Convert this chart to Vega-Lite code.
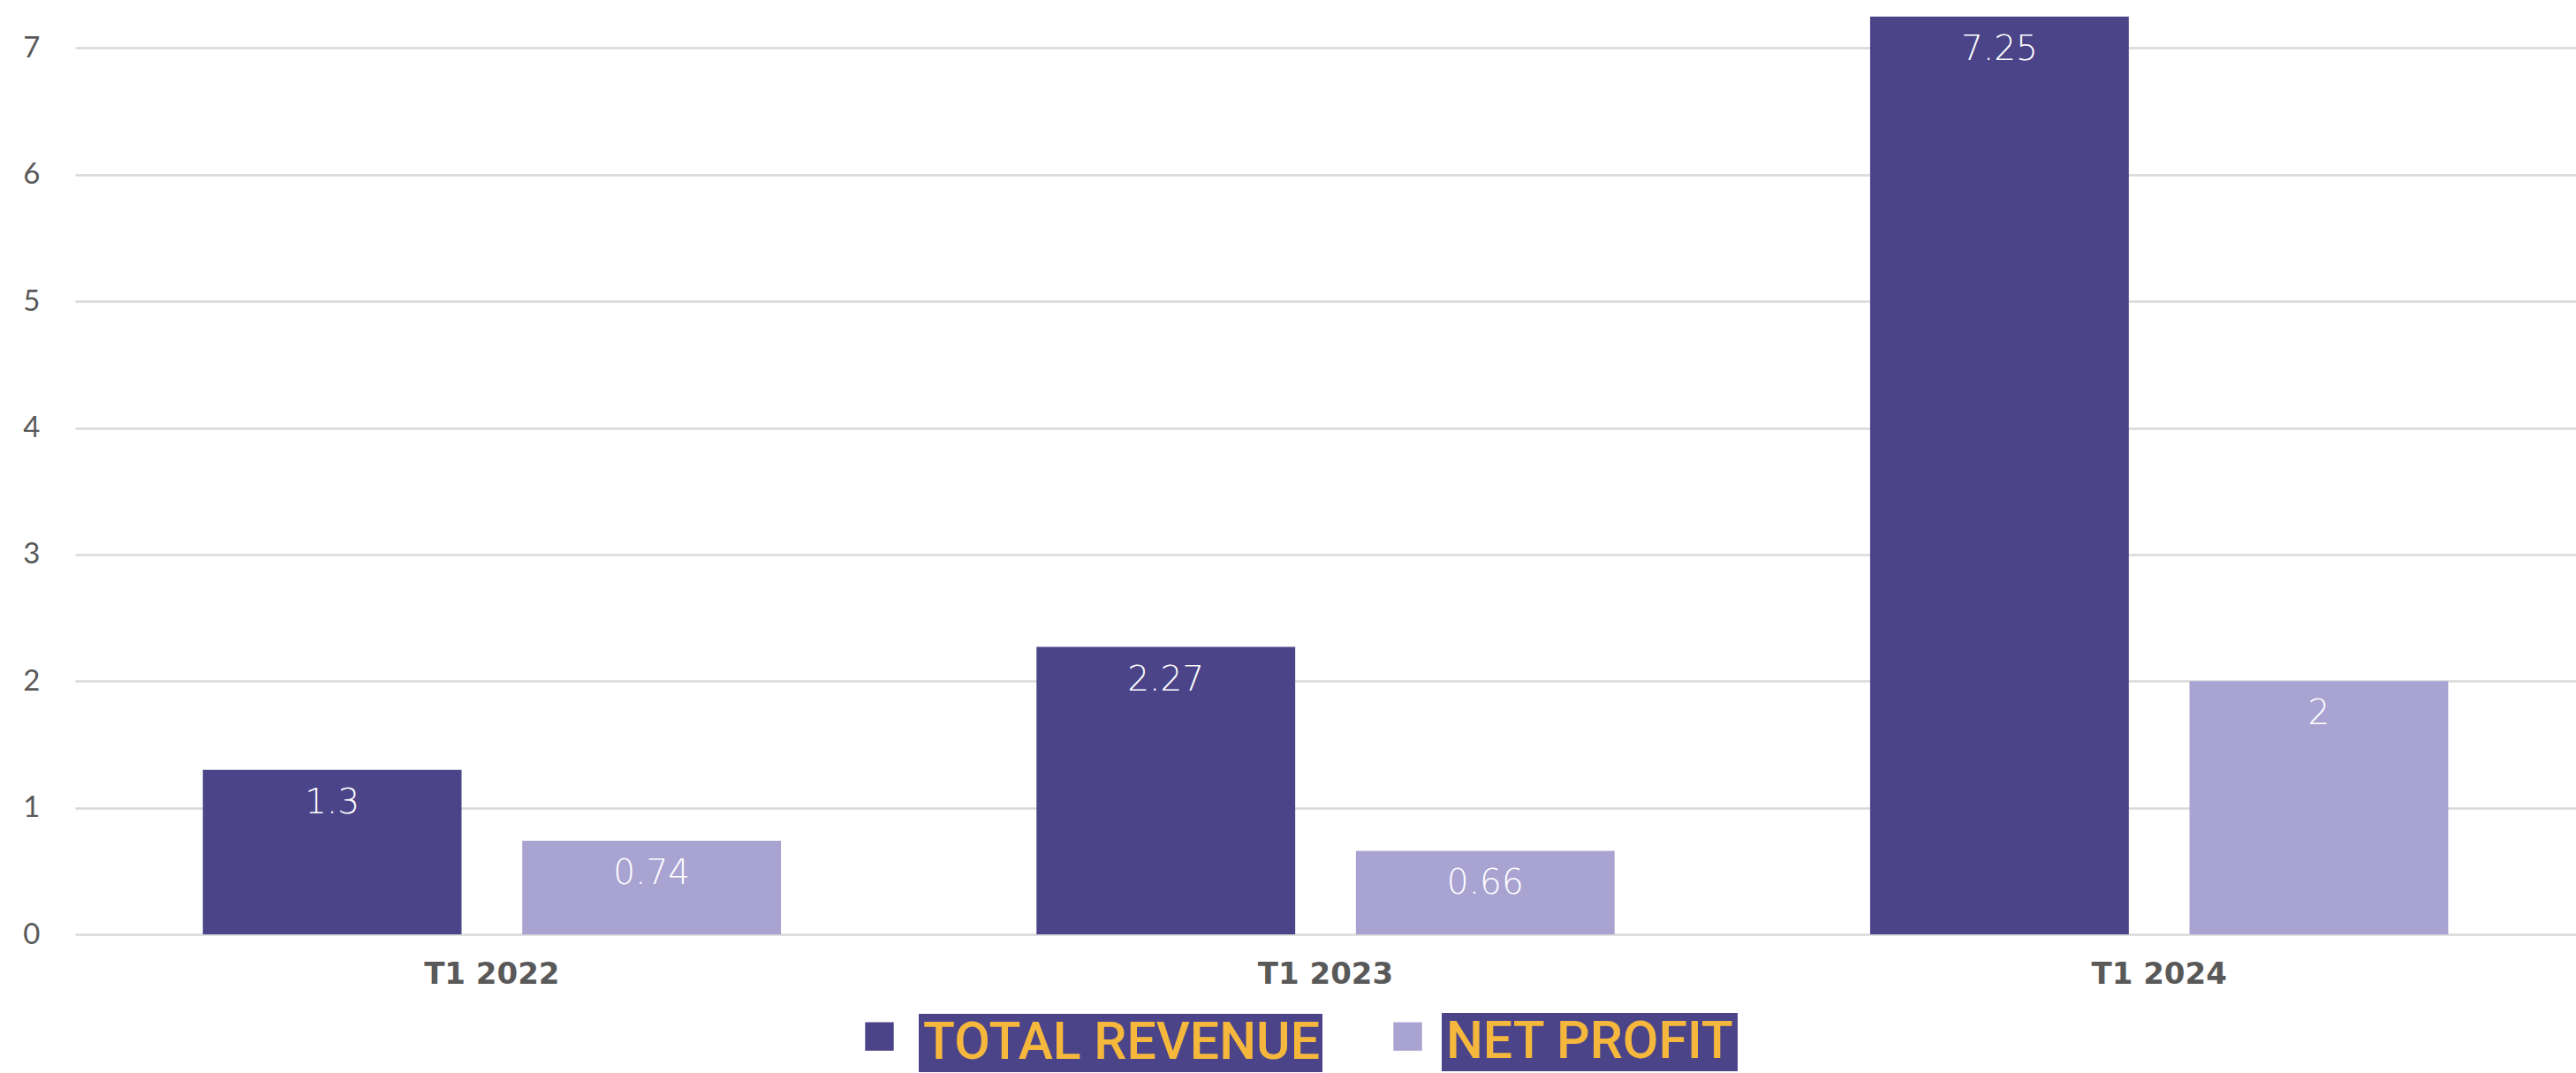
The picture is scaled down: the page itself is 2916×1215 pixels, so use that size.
{
  "$schema": "https://vega.github.io/schema/vega-lite/v6.json",
  "width": 2831,
  "height": 1058,
  "autosize": {"type": "none"},
  "padding": {"left": 85, "top": 0, "right": 0, "bottom": 157},
  "background": "white",
  "config": {"view": {"stroke": null}},
  "data": {
    "values": [
      {"period": "T1 2022", "series": "TOTAL REVENUE", "value": 1.3},
      {"period": "T1 2022", "series": "NET PROFIT", "value": 0.74},
      {"period": "T1 2023", "series": "TOTAL REVENUE", "value": 2.27},
      {"period": "T1 2023", "series": "NET PROFIT", "value": 0.66},
      {"period": "T1 2024", "series": "TOTAL REVENUE", "value": 7.25},
      {"period": "T1 2024", "series": "NET PROFIT", "value": 2}
    ]
  },
  "encoding": {
    "x": {
      "field": "period",
      "type": "nominal",
      "sort": ["T1 2022", "T1 2023", "T1 2024"],
      "scale": {"paddingInner": 0, "paddingOuter": 0},
      "axis": {
        "title": null,
        "domain": false,
        "ticks": false,
        "labelAngle": 0,
        "labelFont": "DejaVu Sans",
        "labelFontWeight": "bold",
        "labelFontSize": 34,
        "labelColor": "#595959",
        "labelPadding": 28
      }
    },
    "xOffset": {
      "field": "series",
      "type": "nominal",
      "sort": ["TOTAL REVENUE", "NET PROFIT"],
      "scale": {"paddingInner": 0.19, "paddingOuter": 0.4}
    },
    "y": {
      "field": "value",
      "type": "quantitative",
      "scale": {"domain": [0, 7.38], "nice": false},
      "axis": {
        "title": null,
        "domain": false,
        "ticks": false,
        "values": [0, 1, 2, 3, 4, 5, 6, 7],
        "labelFont": "Lato",
        "labelFontSize": 33,
        "labelColor": "#595959",
        "labelPadding": 40,
        "gridColor": "#d9d9d9",
        "gridWidth": 2.5
      }
    }
  },
  "layer": [
    {
      "mark": {"type": "bar", "strokeWidth": 0},
      "encoding": {
        "color": {
          "field": "series",
          "type": "nominal",
          "scale": {"domain": ["TOTAL REVENUE", "NET PROFIT"], "range": ["#4B4489", "#A9A3D2"]},
          "legend": {
            "orient": "none",
            "direction": "horizontal",
            "legendX": 894,
            "legendY": 1157,
            "title": null,
            "padding": 0,
            "symbolType": "square",
            "symbolSize": 1050,
            "symbolStrokeWidth": 0,
            "symbolOpacity": 1,
            "labelExpr": "''",
            "labelFontSize": 1,
            "labelOffset": 0,
            "columnPadding": 565
          }
        },
        "opacity": {
          "field": "series",
          "type": "nominal",
          "scale": {"domain": ["NET PROFIT", "TOTAL REVENUE"], "range": [1, 1]},
          "legend": {
            "orient": "none",
            "legendX": 955,
            "legendY": 1148,
            "title": null,
            "values": ["TOTAL REVENUE"],
            "fillColor": "#4B4489",
            "padding": 3,
            "symbolSize": 0,
            "symbolStrokeWidth": 0,
            "labelOffset": -57,
            "labelFont": "Roboto",
            "labelFontSize": 59,
            "labelFontWeight": 500,
            "labelColor": "#F5B83D",
            "labelLimit": 1000
          }
        },
        "stroke": {
          "field": "series",
          "type": "nominal",
          "scale": {"range": ["#A9A3D2", "#4B4489"]},
          "legend": {
            "orient": "none",
            "legendX": 1547,
            "legendY": 1147,
            "title": null,
            "values": ["NET PROFIT"],
            "fillColor": "#4B4489",
            "padding": 3,
            "symbolSize": 0,
            "symbolStrokeWidth": 0,
            "labelOffset": -57,
            "labelFont": "Roboto",
            "labelFontSize": 59,
            "labelFontWeight": 500,
            "labelColor": "#F5B83D",
            "labelLimit": 1000
          }
        }
      }
    },
    {
      "mark": {
        "type": "text",
        "color": "white",
        "font": "DejaVu Sans",
        "fontWeight": 300,
        "fontSize": 39,
        "baseline": "middle",
        "dy": 37
      },
      "encoding": {
        "text": {"field": "value", "type": "nominal"}
      }
    }
  ]
}
